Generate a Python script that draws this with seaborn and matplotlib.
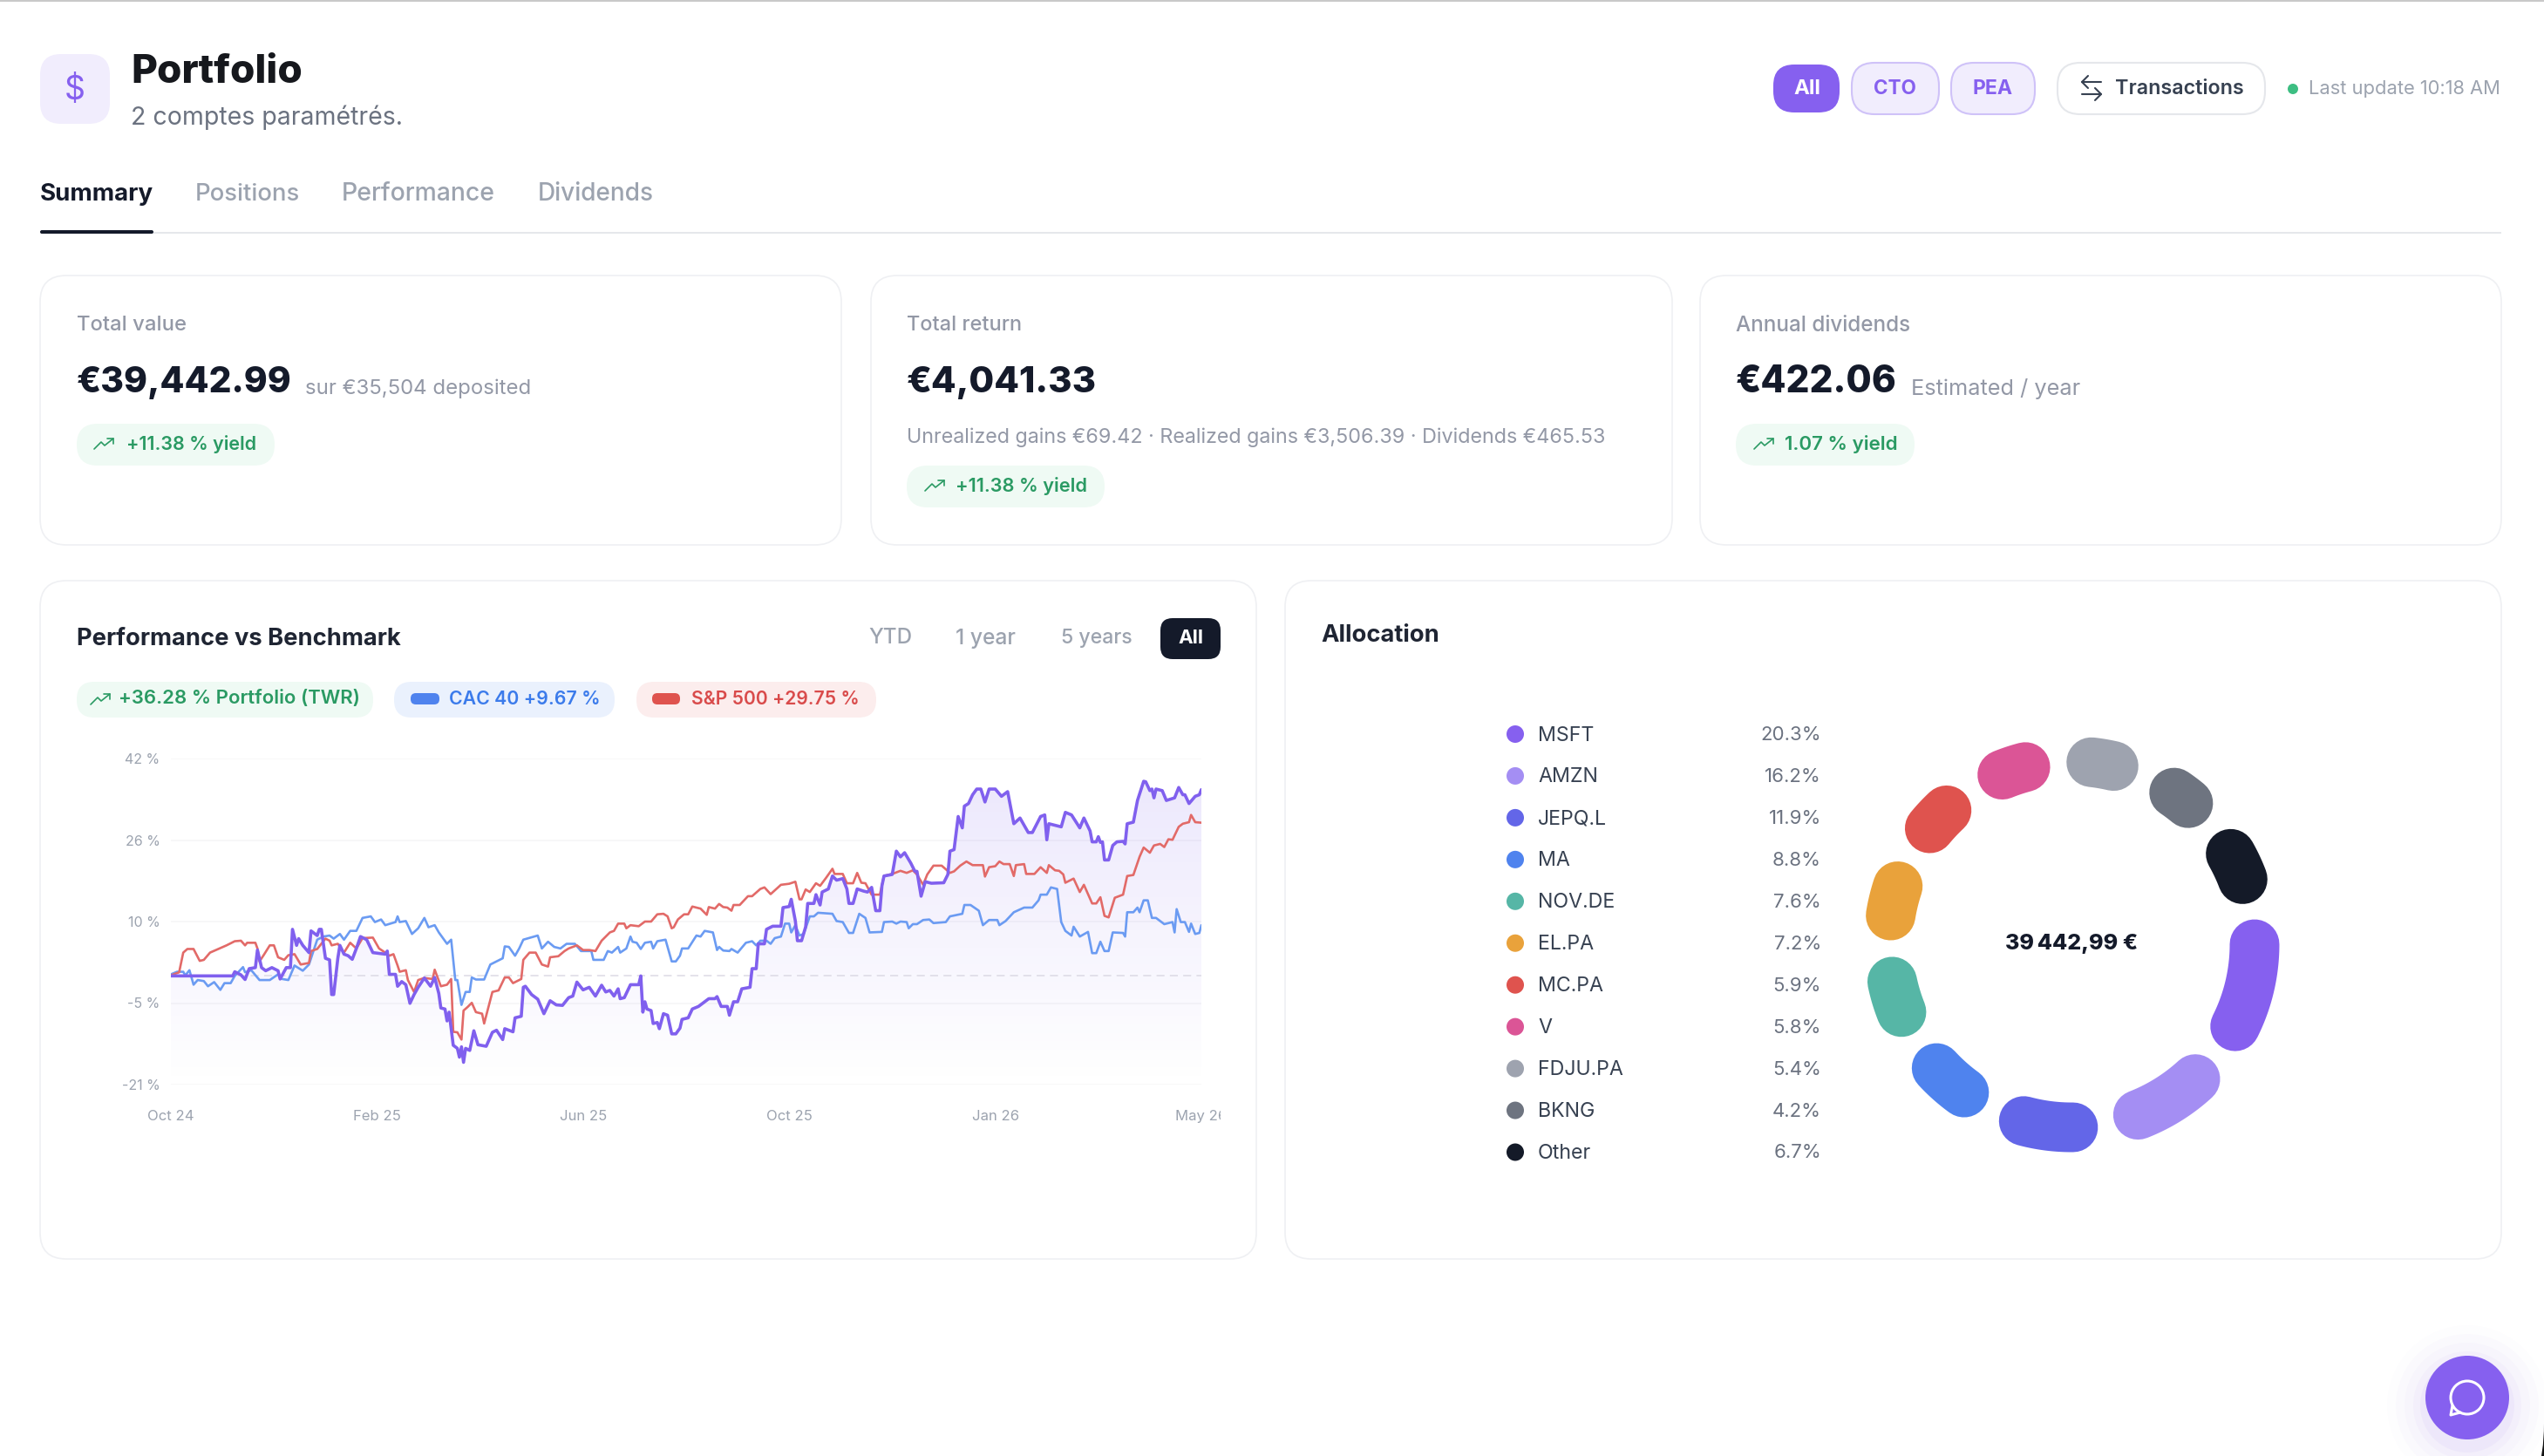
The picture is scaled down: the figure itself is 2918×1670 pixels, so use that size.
import numpy as np
import seaborn as sns
import matplotlib.pyplot as plt
from matplotlib.patches import FancyBboxPatch, Circle, Rectangle
from matplotlib.transforms import Bbox

# chart values: x is the session number (0 to 500), y is the return in %
portfolio_x = [0,30,31,34,36,38,41,42,44,46,49,52,53,56,58,59,61,62,64,67,68,71,72,73,75,77,78,79,81,82,84,86,88,90,92,95,98,104,105,106,109,110,112,114,116,118,120,123,126,128,130,131,133,134,135,137,139,140,141,142,143,145,147,149,153,156,158,161,162,166,167,170,171,172,175,178,181,184,187,190,193,195,197,200,203,206,209,211,213,215,217,218,220,223,227,228,229,230,231,233,234,236,237,239,241,243,245,247,248,251,253,256,258,261,264,265,267,270,271,273,275,277,281,282,284,285,288,289,292,296,297,300,301,303,304,306,308,309,312,313,315,316,319,321,323,326,328,329,331,333,336,338,340,342,344,345,346,350,352,354,356,359,361,362,364,366,369,375,377,378,380,382,384,385,387,389,391,393,395,397,400,403,406,409,412,416,418,422,424,425,426,432,434,437,441,443,446,447,449,450,451,452,453,455,457,459,462,463,464,467,469,472,473,475,476,477,478,481,483,487,489,491,492,494,497,499,500]
portfolio_y = [0,0,0.8,0.2,-0.7,1.4,1.6,5.0,1.6,1.0,1.6,1.0,-0.6,1.6,1.6,9.0,5.9,7.2,5.9,4.5,8.7,7.8,9.0,9.0,3.4,3.1,-3.6,-3.6,3.4,5.9,4.2,3.9,3.2,5.3,7.6,7.0,4.5,4.2,4.8,0.3,0.3,-2.0,-1.1,-1.7,-5.3,-3.6,-2.2,-0.4,-2.0,-0.3,-3.4,-6.2,-6.4,-8.7,-7.0,-13.4,-14.0,-15.7,-13.7,-16.7,-14.0,-14.4,-10.6,-13.3,-13.6,-10.9,-10.5,-12.3,-10.2,-10.8,-8.1,-7.8,-2.2,-2.0,-3.6,-4.5,-7.3,-4.8,-5.6,-5.7,-4.2,-3.9,-1.2,-2.7,-2.2,-3.9,-1.8,-3.1,-2.8,-3.9,-2.5,-4.4,-4.2,-1.7,-1.7,0,-7.0,-5.0,-6.4,-6.7,-9.2,-9.0,-10.2,-7.3,-7.6,-11.2,-11.2,-10.1,-8.4,-8.1,-6.4,-5.9,-5.3,-4.4,-4.4,-4.0,-5.9,-5.9,-7.6,-5.0,-5.0,-2.5,-2.2,1.4,1.4,6.2,6.2,9.0,9.6,9.6,13.2,13.4,14.8,10.6,6.8,6.8,9.5,14.0,14.0,15.7,13.7,16.2,16.8,19.3,18.5,18.8,16.8,14.0,14.0,16.8,16.4,16.2,17.1,12.6,12.6,17.4,19.3,19.6,24.1,23.0,23.8,21.8,20.2,20.2,15.4,18.2,17.9,18.0,19.6,24.1,24.4,30.8,28.6,32.8,33.3,35.0,36.1,36.1,33.6,36.1,36.1,34.7,35.6,29.4,30.5,27.7,27.7,30.8,31.1,26.3,29.4,28.8,31.6,31.1,28.6,30.5,28.0,25.9,25.9,26.9,25.8,25.9,22.4,22.4,25.2,25.9,26.0,25.5,29.4,29.7,33.9,37.6,37.5,35.8,36.1,34.4,36.1,35.8,33.9,34.4,36.4,35.0,35.0,33.3,34.7,35.0,36.0]

cac_x = [0,3,6,7,9,11,13,16,18,21,24,26,29,31,35,36,39,43,48,52,54,57,60,64,67,71,74,77,79,82,84,87,90,93,97,99,102,104,109,110,111,114,117,120,123,125,128,130,134,136,138,139,141,143,145,146,148,152,155,161,162,164,167,169,171,178,180,183,186,189,192,196,199,204,205,210,212,214,217,218,221,223,224,226,228,230,233,234,236,240,243,245,247,248,251,255,257,259,263,265,266,268,271,272,275,279,282,284,286,289,291,293,296,298,300,301,303,305,307,310,312,314,321,323,326,329,331,334,337,339,345,346,350,352,354,357,358,360,362,365,368,370,376,378,384,385,388,392,394,397,401,402,405,409,414,418,421,422,425,427,430,432,434,437,438,441,445,447,449,451,453,455,457,462,463,464,467,469,470,472,474,476,478,482,486,487,488,490,492,494,495,497,499,500]
cac_y = [0.3,0.8,0.8,0.1,1.1,-1.7,-0.8,-1.0,-2.0,-1.2,-2.7,-1.4,-1.4,0,1.7,0.7,1.1,-0.8,-0.8,0.3,-0.6,-0.8,2.0,1.0,2.2,7.0,7.6,7.8,7.2,8.1,7.0,8.7,8.7,11.2,11.5,10.4,10.9,9.8,10.4,11.5,10.4,10.6,8.1,9.2,11.2,9.4,9.8,8.4,6.2,7.0,-0.8,-0.8,-5.6,-3.1,-3.1,-0.3,-0.7,-0.7,2.2,3.4,5.7,5.6,3.9,5.3,7.0,7.8,5.3,6.6,5.6,5.3,6.2,6.2,4.8,4.8,3.1,3.1,4.8,4.5,5.6,4.5,5.3,7.6,6.6,6.4,5.2,6.4,6.6,5.3,6.7,7.0,2.8,2.8,3.9,5.3,5.3,7.8,7.6,8.7,8.4,5.0,5.6,4.9,4.8,5.2,4.5,6.4,6.7,5.9,6.8,6.8,6.2,7.3,7.6,10.1,10.1,8.4,9.8,7.8,8.1,11.5,11.5,12.2,12.0,10.6,10.4,8.3,8.3,12.0,11.2,8.4,8.5,10.4,10.5,10.1,10.5,10.4,9.2,10.0,10.0,10.8,10.9,10.2,10.4,11.5,12.0,13.7,13.7,12.6,9.8,10.8,10.8,9.8,10.6,12.3,13.2,13.2,14.6,15.7,15.7,17.1,16.8,10.4,8.7,7.8,9.5,7.6,8.5,4.4,4.4,6.6,4.8,4.8,8.4,8.3,7.6,12.3,12.3,13.2,12.3,14.6,14.6,11.2,11.2,10.0,10.4,8.4,12.9,10.4,10.4,8.5,10.1,8.1,8.3,9.8]

sp_x = [0,4,6,8,11,14,16,19,23,27,31,34,36,37,41,42,43,45,48,50,52,55,57,60,63,67,68,71,75,77,78,81,84,87,90,93,98,101,104,106,108,110,111,114,115,118,120,123,127,128,131,134,136,137,139,141,142,144,146,148,151,152,156,159,162,164,166,170,171,174,177,180,183,184,188,191,193,197,200,203,206,209,213,215,217,220,221,223,227,230,233,236,239,241,243,244,246,249,251,253,257,260,261,264,266,268,270,272,273,276,280,282,286,288,291,296,300,303,305,306,308,310,313,315,318,321,322,326,328,331,333,335,337,340,344,346,350,354,357,360,362,365,367,370,374,378,380,383,386,389,394,395,397,400,402,404,407,409,410,414,415,419,422,425,426,429,431,433,434,438,441,443,447,449,451,453,455,458,462,464,467,470,472,475,477,480,482,484,486,489,491,494,495,497,500]
sp_y = [0.1,0.7,4.5,5.2,5.2,2.9,3.1,4.5,5.2,5.9,6.7,6.8,5.9,6.4,6.4,5.3,2.8,4.0,5.9,5.9,3.6,3.1,4.0,4.2,2.2,2.5,4.8,5.2,7.2,6.8,5.9,6.2,4.5,6.4,5.3,7.3,7.4,5.3,4.5,3.9,4.2,2.0,0.8,1.1,-0.8,-3.1,-0.8,-0.4,-0.6,1.2,-2.0,-1.7,-0.6,-10.8,-10.9,-12.3,-6.7,-6.0,-5.2,-7.0,-7.3,-9.2,-3.1,-2.8,-0.3,-0.3,-1.4,-0.6,3.1,4.5,4.5,2.2,1.8,3.6,3.8,4.8,5.3,5.9,5.0,5.0,4.8,6.8,8.4,8.7,10.1,10.1,9.2,9.8,9.6,10.5,10.5,11.9,12.0,11.5,9.2,9.4,10.9,11.9,11.9,13.4,13.0,11.8,13.3,13.0,13.9,13.3,13.2,12.6,13.7,13.7,15.4,15.4,16.8,17.1,15.8,17.6,17.8,18.2,14.8,14.8,16.7,16.2,17.9,17.4,19.0,20.7,19.7,19.7,17.9,17.9,19.9,18.0,17.9,15.7,15.7,19.3,19.7,20.3,19.9,20.4,19.6,17.6,19.6,21.3,21.3,19.9,20.2,21.3,22.1,21.4,21.4,19.2,21.0,21.2,22.1,21.6,21.6,19.3,21.4,21.6,19.7,19.7,21.0,19.9,21.4,20.4,20.3,19.6,18.0,18.8,16.2,17.6,14.0,14.0,15.2,11.6,11.3,15.1,15.7,19.3,19.5,23.0,24.8,23.8,25.2,25.5,24.9,26.4,26.3,28.8,29.4,29.7,31.1,29.7,29.6]

y_ticks = [-21, -5.25, 10.5, 26.25, 42]
y_labels = ['-21 %', '-5 %', '10 %', '26 %', '42 %']
x_ticks = [0, 100, 200, 300, 400, 500]
x_labels = ['Oct 24', 'Feb 25', 'Jun 25', 'Oct 25', 'Jan 26', 'May 26']

holdings = ['MSFT', 'AMZN', 'JEPQ.L', 'MA', 'NOV.DE', 'EL.PA', 'MC.PA', 'V', 'FDJU.PA', 'BKNG', 'Other']
shares = [20.3, 16.2, 11.9, 8.8, 7.6, 7.2, 5.9, 5.8, 5.4, 4.2, 6.7]
holding_colors = ['#8660EF', '#A48EF3', '#6366E8', '#4F83EE', '#56B6A6', '#E9A23B',
                  '#DF534E', '#DB5596', '#9EA3AF', '#6E7480', '#141A28']

DARK = '#141A2A'
MUTED = '#9CA3AF'
LABEL = '#9398A6'
PURPLE = '#8660EF'
GREEN = '#2A9A63'
EDGE = '#EFF0F3'

sns.set_theme(style='white')
plt.rcParams['font.family'] = ['Inter', 'DejaVu Sans']

fig = plt.figure(figsize=(29.18, 16.70), dpi=100, facecolor='white')
renderer = fig.canvas.get_renderer()

# page furniture is laid out in pixels on a full-figure axes
bg = fig.add_axes([0, 0, 1, 1])
bg.set_xlim(0, 2918)
bg.set_ylim(1670, 0)
bg.axis('off')


def box(x0, y0, x1, y1, r, fc='white', ec='none', lw=0):
    bg.add_patch(FancyBboxPatch((x0, y0), x1 - x0, y1 - y0, boxstyle=f'round,pad=0,rounding_size={r}',
                                fc=fc, ec=ec, lw=lw))


def put(x0, x1, y, s, color, weight='normal', size=18, ha='left'):
    # squeeze the text to the width it has in the picture
    t = bg.text(x0 if ha == 'left' else (x0 + x1) / 2, y - 1.5, s, color=color, fontweight=weight, fontsize=size,
                ha=ha, va='center_baseline')
    w = t.get_window_extent(renderer).width
    t.set_fontsize(size * (x1 - x0) / w)
    return t


def trend(x, y, color=GREEN):
    bg.plot([x - 11, x - 3, x + 1, x + 11], [y + 6, y - 2, y + 2, y - 6], color=color, lw=1.2, solid_joinstyle='round')
    bg.plot([x + 4, x + 11, x + 11], [y - 6, y - 6, y], color=color, lw=1.2)


# sliver of desktop behind the rounded window corner
bg.add_patch(Rectangle((2870, 1600), 48, 70, fc='#111111', ec='none'))
box(-200, -200, 2918, 1770, 137)

bg.add_patch(Rectangle((0, 0), 2918, 2, fc='#C9C9C9', ec='none'))

# header
box(46, 62, 126, 142, 24, fc='#F1EDFD')
put(74, 98, 102, '$', PURPLE, size=24, ha='center')
put(150, 346, 80, 'Portfolio', '#16181D', 'heavy', 34)
put(150, 462, 133, '2 comptes paramétrés.', '#6B7280', size=20)

box(2034, 74, 2110, 129, 24, fc=PURPLE)
put(2057, 2088, 101, 'All', 'white', 'bold', 17)
box(2124, 72, 2224, 131, 26, fc='#F1EDFD', ec='#CFC2F8', lw=1.5)
put(2149, 2198, 101, 'CTO', PURPLE, 'bold', 17)
box(2238, 72, 2334, 131, 26, fc='#F1EDFD', ec='#CFC2F8', lw=1.5)
put(2263, 2309, 101, 'PEA', PURPLE, 'bold', 17)
box(2360, 72, 2598, 131, 26, fc='white', ec='#E5E7EB', lw=1.5)
# swap icon
bg.plot([2410, 2388], [94, 94], color='#374151', lw=1.5)
bg.plot([2395, 2388, 2395], [87, 94, 101], color='#374151', lw=1.5)
bg.plot([2388, 2410], [108, 108], color='#374151', lw=1.5)
bg.plot([2403, 2410, 2403], [101, 108, 115], color='#374151', lw=1.5)
put(2426, 2573, 101, 'Transactions', '#374151', 'semibold', 18)
bg.add_patch(Circle((2630, 102), 6, fc='#3DBE82', ec='none'))
put(2648, 2869, 102, 'Last update 10:18 AM', MUTED, size=16)

# tabs
for x0, x1, name, col, wt in [(46, 176, 'Summary', DARK, 'bold'), (224, 344, 'Positions', MUTED, 'medium'),
                              (392, 568, 'Performance', MUTED, 'medium'), (617, 750, 'Dividends', MUTED, 'medium')]:
    put(x0, x1, 221, name, col, wt, 20)
bg.add_patch(Rectangle((46, 266), 2823, 2, fc='#E5E7EB', ec='none'))
box(46, 264, 176, 268, 2, fc=DARK)

# stat cards
for x0, x1 in [(46, 965), (999, 1918), (1950, 2869)]:
    box(x0, 316, x1, 625, 30, ec=EDGE, lw=1.2)
box(46, 666, 1441, 1444, 30, ec=EDGE, lw=1.2)
box(1474, 666, 2869, 1444, 30, ec=EDGE, lw=1.2)

put(88, 214, 372, 'Total value', LABEL, 'medium', 17)
put(88, 335, 436, '€39,442.99', DARK, 'heavy', 34)
put(350, 609, 445, 'sur €35,504 deposited', LABEL, size=18)
box(88, 486, 315, 534, 24, fc='#EFFAF4')
trend(119, 509)
put(145, 294, 509, '+11.38 % yield', GREEN, 'semibold', 17)

put(1040, 1172, 372, 'Total return', LABEL, 'medium', 17)
put(1040, 1258, 436, '€4,041.33', DARK, 'heavy', 34)
put(1040, 1843, 501, 'Unrealized gains €69.42 · Realized gains €3,506.39 · Dividends €465.53', LABEL, size=18)
box(1040, 534, 1267, 582, 24, fc='#EFFAF4')
trend(1072, 557)
put(1096, 1247, 557, '+11.38 % yield', GREEN, 'semibold', 17)

put(1991, 2192, 372, 'Annual dividends', LABEL, 'medium', 17)
put(1991, 2176, 436, '€422.06', DARK, 'heavy', 34)
put(2192, 2386, 445, 'Estimated / year', LABEL, size=18)
box(1991, 486, 2196, 534, 24, fc='#EFFAF4')
trend(2023, 509)
put(2047, 2177, 509, '1.07 % yield', GREEN, 'semibold', 17)

# performance card
put(88, 460, 731, 'Performance vs Benchmark', '#1F2533', 'bold', 20)
put(996, 1046, 731, 'YTD', MUTED, 'medium', 17)
put(1096, 1165, 731, '1 year', MUTED, 'medium', 17)
put(1217, 1299, 731, '5 years', MUTED, 'medium', 17)
box(1331, 709, 1400, 756, 14, fc=DARK)
put(1351, 1380, 731, 'All', 'white', 'bold', 17)

box(88, 782, 428, 823, 20, fc='#EFFAF4')
trend(115, 802)
put(136, 413, 801, '+36.28 % Portfolio (TWR)', GREEN, 'semibold', 17)
box(452, 782, 705, 823, 20, fc='#EAF1FD')
box(471, 795, 504, 808, 6, fc='#4F83EE')
put(515, 688, 801, 'CAC 40 +9.67 %', '#3B7BEB', 'semibold', 17)
box(730, 782, 1005, 823, 20, fc='#FCEDED')
box(748, 795, 780, 808, 6, fc='#DF534E')
put(793, 986, 801, 'S&P 500 +29.75 %', '#D94B4B', 'semibold', 17)

ax = fig.add_axes([196 / 2918, 1 - 1244 / 1670, (1378 - 196) / 2918, (1244 - 870) / 1670])
ax.patch.set_alpha(0)

# gradient under the portfolio line
rgba = np.zeros((256, 1, 4))
rgba[..., :3] = (0.486, 0.361, 0.941)
rgba[..., 3] = np.linspace(0.15, 0, 256)[:, None]
im = ax.imshow(rgba, extent=[0, 500, -21, 42], aspect='auto', origin='upper', zorder=1)
under = ax.fill_between(portfolio_x, portfolio_y, -21, color='none')
im.set_clip_path(under.get_paths()[0], ax.transData)

ax.axhline(0, color='#DCDAE4', lw=1.1, dashes=(6, 4), zorder=1.5)
sns.lineplot(x=cac_x, y=cac_y, ax=ax, color='#6B9BF2', linewidth=1.9, estimator=None, zorder=3)
sns.lineplot(x=sp_x, y=sp_y, ax=ax, color='#E26A68', linewidth=1.9, estimator=None, zorder=3)
sns.lineplot(x=portfolio_x, y=portfolio_y, ax=ax, color='#8060EE', linewidth=2.6, estimator=None, zorder=4)

ax.set_xlim(0, 500)
ax.set_ylim(-21, 42)
ax.set_yticks(y_ticks, y_labels)
ax.set_xticks(x_ticks, x_labels)
ax.grid(axis='y', color='#F5F5F7', lw=1.1)
ax.set_axisbelow(True)
ax.tick_params(axis='y', length=0, pad=9, labelsize=11.5, labelcolor=MUTED)
ax.tick_params(axis='x', length=0, pad=21, labelsize=12, labelcolor=MUTED)
sns.despine(ax=ax, left=True, bottom=True)
# the last date runs past the chart's edge and is cut there
last = ax.get_xticklabels()[-1]
last.set_clip_on(True)
last.set_clip_box(Bbox([[1300, 0], [1400, 1670]]))

# allocation card
put(1515, 1651, 727, 'Allocation', '#1F2533', 'bold', 20)
for i, (name, share, col) in enumerate(zip(holdings, shares, holding_colors)):
    y = 841 + i * 47.95
    bg.add_patch(Circle((1738, y + 1), 10, fc=col, ec='none'))
    bg.text(1764, y, name, color='#374151', fontsize=16.7, va='center_baseline')
    bg.text(2089, y, f'{share}%', color='#6B7280', fontsize=16, va='center_baseline', ha='right')

donut = fig.add_axes([(2376 - 250) / 2918, 1 - (1083 + 250) / 1670, 500 / 2918, 500 / 1670], projection='polar')
donut.set_theta_zero_location('E')
donut.set_theta_direction(-1)
donut.set_ylim(0, 1)
donut.axis('off')
pad = 20.8
scale = (360 - pad * len(shares)) / sum(shares)
start = 0.0
for share, col in zip(shares, holding_colors):
    sweep = share * scale
    theta = np.radians(np.linspace(start, start + sweep, 40))
    donut.plot(theta, np.full(40, 0.84), color=col, lw=41, solid_capstyle='round')
    start += sweep + pad
donut.text(0.5, 0.5, '39\u202f442,99 €', transform=donut.transAxes, ha='center', va='center',
           color=DARK, fontweight='heavy', fontsize=18)

# chat button with its soft shadow
for r, a in [(92, 0.012), (82, 0.018), (72, 0.025), (62, 0.035), (54, 0.05)]:
    bg.add_patch(Circle((2830, 1612), r, fc=PURPLE, ec='none', alpha=a))
bg.add_patch(Circle((2830, 1603), 48, fc=PURPLE, ec='none'))
bg.add_patch(Circle((2830, 1603), 19, fc='none', ec='white', lw=2.2))
bg.plot([2813, 2811, 2822], [1612, 1623, 1620], color='white', lw=2.2, solid_joinstyle='round')

fig.savefig('out.png', dpi=100)
